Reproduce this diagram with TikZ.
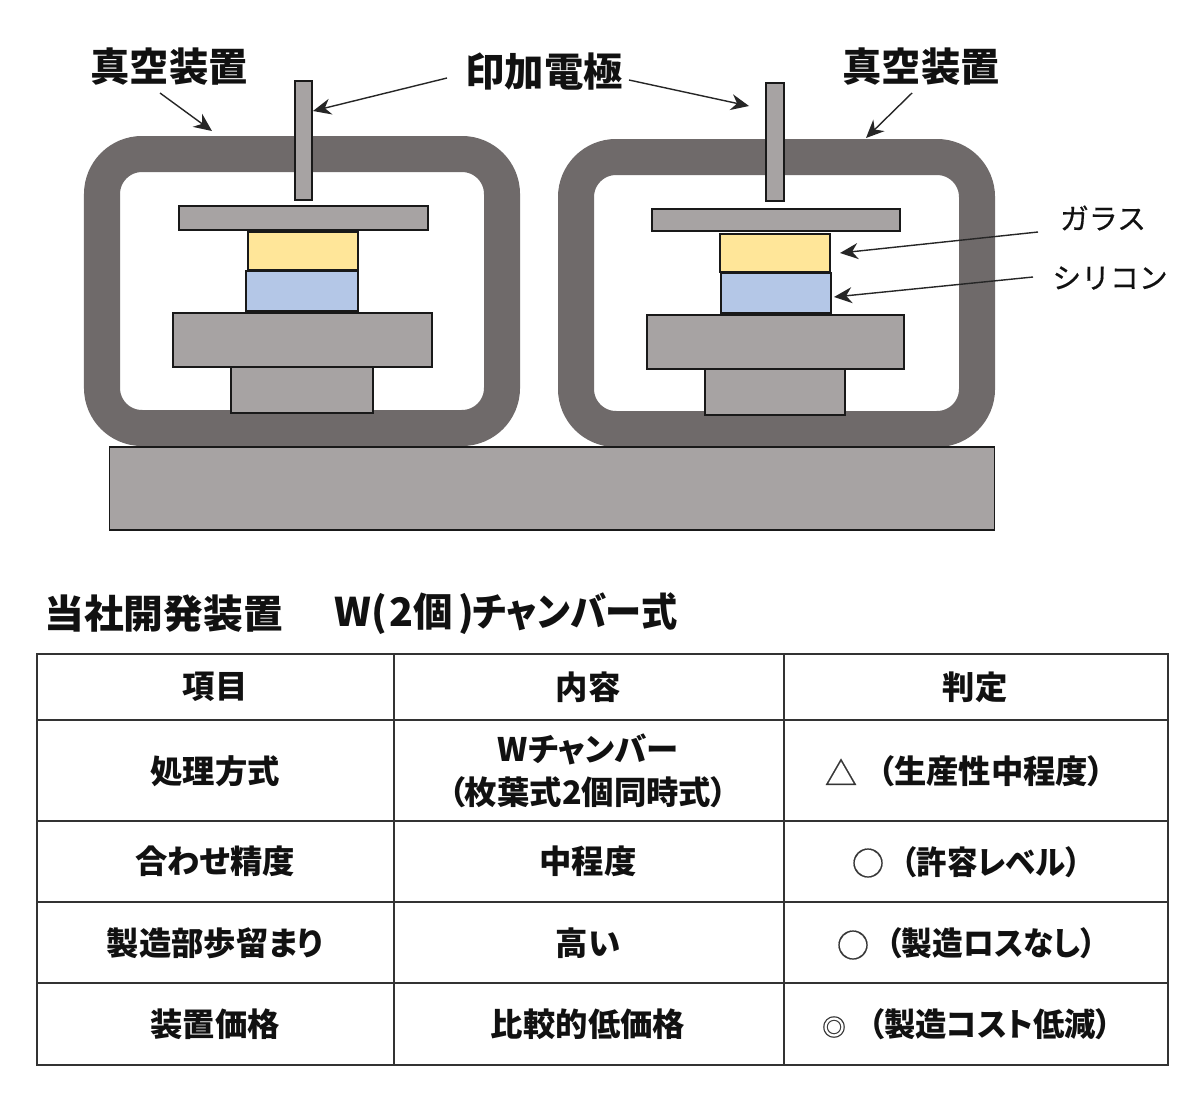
\documentclass[tikz,border=0pt]{standalone}
\usepackage{fontspec}
\usepackage{graphicx}
\setmainfont{Liberation Sans}
\newfontfamily\cjk{Noto Sans CJK JP}
\newfontfamily\cjkp{Noto Sans CJK JP}[RawFeature=+palt]
\newfontfamily\cjkm{Noto Sans CJK JP}[FakeBold=0.5]
\usetikzlibrary{arrows.meta}
\definecolor{chamber}{HTML}{6F6A6A}
\definecolor{part}{HTML}{A7A3A3}
\definecolor{glass}{HTML}{FFE699}
\definecolor{silicon}{HTML}{B4C7E7}
\definecolor{ink}{HTML}{111111}
\newcommand{\squeeze}[2]{\scalebox{#1}[1]{#2}}
\tikzset{
 px/.style={x=0.025cm,y=-0.025cm},
 chamberbox/.style={draw=chamber,line width=0.9cm,rounded corners=1cm},
 solid box/.style={draw=black!90,line width=0.45mm,anchor=north west,inner sep=0pt,outer sep=0pt},
 partbox/.style={solid box,fill=part},
 glassbox/.style={solid box,fill=glass},
 siliconbox/.style={solid box,fill=silicon},
 wh/.style 2 args={minimum width=#1*0.025cm,minimum height=#2*0.025cm},
 biglabel/.style={font=\cjk\bfseries\fontsize{28}{30}\selectfont,text=ink,inner sep=0pt},
 smalllabel/.style={font=\cjkm\fontsize{20.5}{22}\selectfont,text=ink,inner sep=0pt},
 cell/.style={font=\cjkp\bfseries\fontsize{23}{31}\selectfont,text=ink,inner sep=0pt,align=center},
 sym/.style={font=\cjkm\fontsize{23}{25}\selectfont,text=ink!85,inner sep=0pt},
 arrowline/.style={draw=black!85,line width=0.35mm,-{Stealth[length=4.5mm,width=4mm]}},
 gridline/.style={draw=black!80,line width=0.45mm}
}
\begin{document}
\begin{tikzpicture}[px]
\useasboundingbox (0,0) rectangle (1200,1106);
\fill[white] (0,0) rectangle (1200,1106);
% chambers
\draw[chamberbox] (102,154) rectangle (502,428);
\draw[chamberbox] (576,157) rectangle (977,429);
% base
\node[partbox,wh={885}{83}] (base) at (109.5,447) {};
% left parts
\node[partbox,wh={17}{119}] (elecL) at (295,81) {};
\node[partbox,wh={249}{24}] (plateL) at (179,206) {};
\node[glassbox,wh={110}{38}] (glassL) at (248,232) {};
\node[siliconbox,wh={112}{40}] (siL) at (246,271) {};
\node[partbox,wh={259}{54}] (tableL) at (173,313) {};
\node[partbox,wh={142}{46}] (footL) at (231,367) {};
% right parts
\node[partbox,wh={18}{118}] (elecR) at (766,83) {};
\node[partbox,wh={248}{22}] (plateR) at (652,209) {};
\node[glassbox,wh={110}{38}] (glassR) at (720,234) {};
\node[siliconbox,wh={110}{40}] (siR) at (721,273) {};
\node[partbox,wh={257}{54}] (tableR) at (647,315) {};
\node[partbox,wh={140}{46}] (footR) at (705,369) {};
% labels
\node[biglabel] (vacL) at (169,67) {真空装置};
\node[biglabel] (vacR) at (921,67) {真空装置};
\node[biglabel] (elec) at (544,72) {印加電極};
\node[smalllabel] (gl) at (1103,218) {ガラス};
\node[smalllabel] (si) at (1110,278) {シリコン};
% arrows
\coordinate (a1) at (160,93); \coordinate (a1e) at (212,131);
\coordinate (a2) at (912,93); \coordinate (a2e) at (866,138);
\coordinate (a3) at (447,78); \coordinate (a3e) at (313,111);
\coordinate (a4) at (629,80); \coordinate (a4e) at (749,106);
\coordinate (a5) at (1038,232); \coordinate (a5e) at (840,253);
\coordinate (a6) at (1033,277); \coordinate (a6e) at (834,297);
\draw[arrowline] (a1) -- (a1e);
\draw[arrowline] (a2) -- (a2e);
\draw[arrowline] (a3) -- (a3e);
\draw[arrowline] (a4) -- (a4e);
\draw[arrowline] (a5) -- (a5e);
\draw[arrowline] (a6) -- (a6e);
% title
\node[biglabel,anchor=west] (title) at (44,614) {\squeeze{1.01}{当社開発装置}};
\node[biglabel,anchor=west,font=\cjkp\fontsize{28}{30}\selectfont\bfseries] (title2) at (334,614) {W(\kern2pt 2個\kern4pt)\kern-1pt\squeeze{0.92}{チャンバー式}};
% table
\draw[gridline] (37,654) rectangle (1168,1065);
\draw[gridline] (37,720) -- (1168,720);
\draw[gridline] (37,821) -- (1168,821);
\draw[gridline] (37,902) -- (1168,902);
\draw[gridline] (37,983) -- (1168,983);
\draw[gridline] (394,654) -- (394,1065);
\draw[gridline] (784,654) -- (784,1065);
\node[cell] (c11) at (215,687) {項目};
\node[cell] (c12) at (588,687) {内容};
\node[cell] (c13) at (975,687) {判定};
\node[cell] (c21) at (215,771) {処理方式};
\node[cell] (c22) at (588,771) {Wチャンバー\\（枚葉式2個同時式）};
\node[sym] (s2) at (841,772) {△};
\node[cell] (c23) at (991,771) {（生産性中程度）};
\node[cell] (c31) at (215,861) {合わせ精度};
\node[cell] (c32) at (588,861) {中程度};
\node[sym] (s3) at (868,863) {○};
\node[cell] (c33) at (991,862) {\squeeze{0.94}{（許容レベル）}};
\node[cell] (c41) at (215,943) {製造部歩留まり};
\node[cell] (c42) at (588,943) {高い};
\node[sym] (s4) at (853,945) {○};
\node[cell] (c43) at (991,943) {\squeeze{0.95}{（製造ロスなし）}};
\node[cell] (c51) at (215,1024) {装置価格};
\node[cell] (c52) at (588,1024) {比較的低価格};
\node[sym,font=\cjkm\fontsize{17}{19}\selectfont] (s5) at (834,1027) {◎};
\node[cell] (c53) at (990,1024) {\squeeze{0.97}{（製造コスト低減）}};
\end{tikzpicture}
\end{document}
